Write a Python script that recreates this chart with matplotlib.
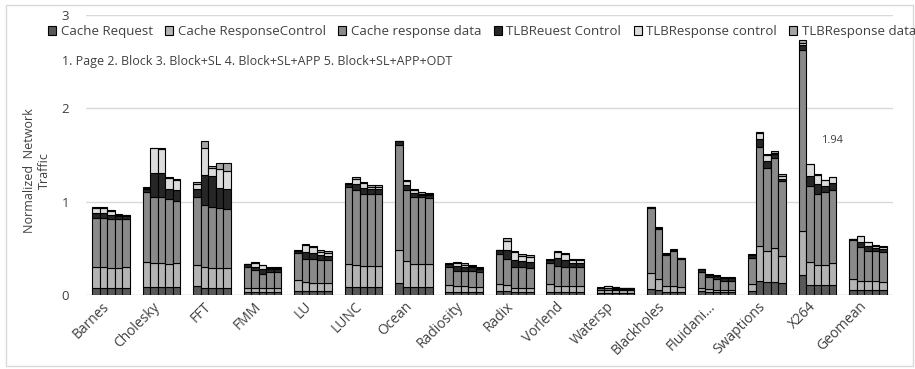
import numpy as np
import matplotlib
matplotlib.use("Agg")
import matplotlib.pyplot as plt
import matplotlib.transforms as mtransforms
from matplotlib.patches import Rectangle

plt.rcParams['font.family'] = ['Open Sans', 'DejaVu Sans']

categories = ["Barnes", "Cholesky", "FFT", "FMM", "LU", "LUNC", "Ocean", "Radiosity",
              "Radix", "Vorlend", "Watersp", "Blackholes", "Fluidani...", "Swaptions",
              "X264", "Geomean"]
series_names = ["Cache Request", "Cache ResponseControl", "Cache response data",
                "TLBReuest Control", "TLBResponse control", "TLBResponse data"]

# each row: one benchmark, 5 configurations
cache_request = [
    [0.08, 0.08, 0.08, 0.08, 0.08],
    [0.09, 0.09, 0.09, 0.09, 0.09],
    [0.10, 0.08, 0.08, 0.08, 0.08],
    [0.035, 0.035, 0.03, 0.03, 0.03],
    [0.04, 0.04, 0.04, 0.04, 0.04],
    [0.09, 0.09, 0.09, 0.09, 0.09],
    [0.13, 0.09, 0.09, 0.09, 0.09],
    [0.035, 0.035, 0.035, 0.035, 0.035],
    [0.045, 0.04, 0.035, 0.035, 0.035],
    [0.035, 0.035, 0.035, 0.035, 0.035],
    [0.025, 0.025, 0.025, 0.025, 0.025],
    [0.065, 0.055, 0.035, 0.035, 0.035],
    [0.045, 0.03, 0.03, 0.03, 0.03],
    [0.045, 0.145, 0.135, 0.135, 0.13],
    [0.215, 0.11, 0.11, 0.11, 0.11],
    [0.054, 0.05, 0.05, 0.05, 0.05],
]
cache_resp_ctrl = [
    [0.22, 0.22, 0.21, 0.21, 0.22],
    [0.26, 0.25, 0.25, 0.24, 0.25],
    [0.22, 0.22, 0.21, 0.21, 0.21],
    [0.045, 0.045, 0.04, 0.045, 0.045],
    [0.12, 0.10, 0.085, 0.09, 0.09],
    [0.24, 0.23, 0.22, 0.22, 0.22],
    [0.355, 0.27, 0.24, 0.24, 0.24],
    [0.075, 0.065, 0.065, 0.055, 0.05],
    [0.075, 0.07, 0.045, 0.045, 0.045],
    [0.085, 0.065, 0.065, 0.065, 0.065],
    [0.03, 0.03, 0.025, 0.025, 0.025],
    [0.175, 0.115, 0.065, 0.065, 0.055],
    [0.025, 0.03, 0.025, 0.025, 0.025],
    [0.07, 0.385, 0.335, 0.365, 0.29],
    [0.475, 0.24, 0.21, 0.215, 0.23],
    [0.116, 0.105, 0.095, 0.095, 0.09],
]
cache_resp_data = [
    [0.53, 0.53, 0.52, 0.52, 0.51],
    [0.75, 0.71, 0.71, 0.70, 0.67],
    [0.73, 0.66, 0.65, 0.645, 0.63],
    [0.225, 0.19, 0.16, 0.175, 0.175],
    [0.295, 0.25, 0.265, 0.25, 0.24],
    [0.83, 0.81, 0.77, 0.77, 0.77],
    [1.125, 0.77, 0.72, 0.72, 0.71],
    [0.185, 0.16, 0.16, 0.17, 0.16],
    [0.32, 0.275, 0.215, 0.215, 0.21],
    [0.22, 0.215, 0.205, 0.20, 0.20],
    [0.015, 0.015, 0.015, 0.01, 0.01],
    [0.69, 0.54, 0.33, 0.375, 0.295],
    [0.18, 0.13, 0.115, 0.10, 0.10],
    [0.28, 1.06, 0.895, 0.97, 0.80],
    [1.94, 0.817, 0.765, 0.775, 0.78],
    [0.42, 0.359, 0.325, 0.33, 0.32],
]
tlb_req_ctrl = [
    [0.05, 0.05, 0.05, 0.035, 0.035],
    [0.04, 0.26, 0.26, 0.11, 0.11],
    [0.09, 0.33, 0.33, 0.215, 0.22],
    [0.025, 0.035, 0.05, 0.03, 0.03],
    [0.02, 0.075, 0.055, 0.05, 0.05],
    [0.03, 0.06, 0.07, 0.06, 0.06],
    [0.04, 0.045, 0.045, 0.025, 0.03],
    [0.04, 0.055, 0.045, 0.035, 0.035],
    [0.04, 0.10, 0.08, 0.065, 0.06],
    [0.035, 0.08, 0.065, 0.04, 0.045],
    [0.01, 0.01, 0.01, 0.01, 0.01],
    [0.01, 0.01, 0.01, 0.01, 0.01],
    [0.025, 0.02, 0.03, 0.025, 0.025],
    [0.035, 0.08, 0.07, 0.04, 0.025],
    [0.045, 0.113, 0.10, 0.067, 0.08],
    [0.01, 0.049, 0.06, 0.03, 0.03],
]
tlb_resp_ctrl = [
    [0.055, 0.055, 0.045, 0.015, 0.01],
    [0.01, 0.26, 0.255, 0.11, 0.11],
    [0.05, 0.29, 0.09, 0.20, 0.19],
    [0.0, 0.035, 0.04, 0.01, 0.01],
    [0.0, 0.07, 0.065, 0.035, 0.035],
    [0.0, 0.055, 0.045, 0.02, 0.02],
    [0.0, 0.045, 0.035, 0.01, 0.01],
    [0.0, 0.025, 0.02, 0.015, 0.01],
    [0.0, 0.095, 0.09, 0.06, 0.055],
    [0.0, 0.065, 0.07, 0.035, 0.025],
    [0.0, 0.015, 0.01, 0.005, 0.005],
    [0.0, 0.0, 0.0, 0.0, 0.0],
    [0.0, 0.005, 0.005, 0.005, 0.005],
    [0.0, 0.07, 0.065, 0.015, 0.025],
    [0.025, 0.12, 0.105, 0.063, 0.06],
    [0.0, 0.067, 0.033, 0.025, 0.024],
]
tlb_resp_data = [
    [0.01, 0.01, 0.01, 0.005, 0.005],
    [0.01, 0.01, 0.01, 0.01, 0.01],
    [0.02, 0.07, 0.02, 0.06, 0.08],
    [0.005, 0.01, 0.005, 0.005, 0.005],
    [0.005, 0.015, 0.02, 0.02, 0.02],
    [0.01, 0.015, 0.015, 0.015, 0.015],
    [0.005, 0.01, 0.01, 0.015, 0.01],
    [0.005, 0.01, 0.015, 0.01, 0.01],
    [0.005, 0.03, 0.005, 0.02, 0.025],
    [0.01, 0.01, 0.01, 0.015, 0.02],
    [0.005, 0.005, 0.005, 0.003, 0.003],
    [0.005, 0.005, 0.005, 0.005, 0.005],
    [0.005, 0.005, 0.005, 0.005, 0.005],
    [0.005, 0.01, 0.01, 0.02, 0.03],
    [0.03, 0.005, 0.005, 0.005, 0.005],
    [0.005, 0.005, 0.005, 0.005, 0.006],
]
series = [cache_request, cache_resp_ctrl, cache_resp_data,
          tlb_req_ctrl, tlb_resp_ctrl, tlb_resp_data]
colors = ["#595959", "#b4b4b4", "#8a8a8a", "#262626", "#dcdcdc", "#a5a5a5"]
yticks = [0, 1, 2, 3]
config_note = "1. Page 2. Block 3. Block+SL 4. Block+SL+APP 5. Block+SL+APP+ODT"
annot_value = "1.94"

W, H = 915, 369
fig = plt.figure(figsize=(W / 100, H / 100), dpi=100)
ax = fig.add_axes([86 / W, 1 - 295 / H, (893 - 86) / W, (295 - 15) / H])

n_cat = len(categories)
n_cfg = 5
bw = 0.149
x = np.arange(n_cat)
handles = []
for j in range(n_cfg):
    xpos = x + (j - (n_cfg - 1) / 2) * bw
    bottom = np.zeros(n_cat)
    for s, (vals, col) in enumerate(zip(series, colors)):
        h = np.array([row[j] for row in vals])
        b = ax.bar(xpos, h, bw, bottom=bottom, color=col, edgecolor="black",
                   linewidth=0.8, zorder=3)
        if j == 0:
            handles.append(b)
        bottom = bottom + h

ax.set_xlim(-0.5, n_cat - 0.5)
ax.set_ylim(0, 3)
ax.set_yticks(yticks)
ax.set_yticklabels([str(t) for t in yticks])
ax.grid(axis="y", color="#d9d9d9", linewidth=1, zorder=0)
ax.axhline(0, color="#d9d9d9", linewidth=1, zorder=1)
for sp in ax.spines.values():
    sp.set_visible(False)
ax.tick_params(axis="y", length=0, pad=12, labelsize=9.5, labelcolor="#404040")
ax.tick_params(axis="x", length=0, pad=3, labelsize=10, labelcolor="#404040")
ax.set_xticks(x)
ax.set_xticklabels(categories, rotation=45, ha="right", rotation_mode="anchor")
shift = mtransforms.ScaledTranslation(-0.09, 0, fig.dpi_scale_trans)
for lbl in ax.get_xticklabels():
    lbl.set_transform(lbl.get_transform() + shift)
ax.set_ylabel("Normalized  Network\nTraffic", fontsize=9, color="#404040")
ax.yaxis.set_label_coords(-0.043, 0.446)

leg = fig.legend(handles, series_names, loc="upper left",
                 bbox_to_anchor=(48 / W, 1 - 25 / H), ncol=6, frameon=False,
                 fontsize=9.5, handlelength=0.6, handleheight=0.6,
                 handletextpad=0.35, columnspacing=0.95, borderaxespad=0,
                 borderpad=0)
for t in leg.get_texts():
    t.set_color("#404040")

fig.text(62 / W, 1 - 62 / H, config_note, fontsize=9, color="#404040",
         va="center", ha="left")
ax.text(14.3, 1.66, annot_value, fontsize=8, color="#404040",
        ha="center", va="center")

fig.patches.append(Rectangle((6 / W, 3 / H), (W - 8) / W, (H - 8) / H,
                             transform=fig.transFigure, fill=False,
                             edgecolor="#d9d9d9", linewidth=1))

fig.savefig("out.png", dpi=100)
